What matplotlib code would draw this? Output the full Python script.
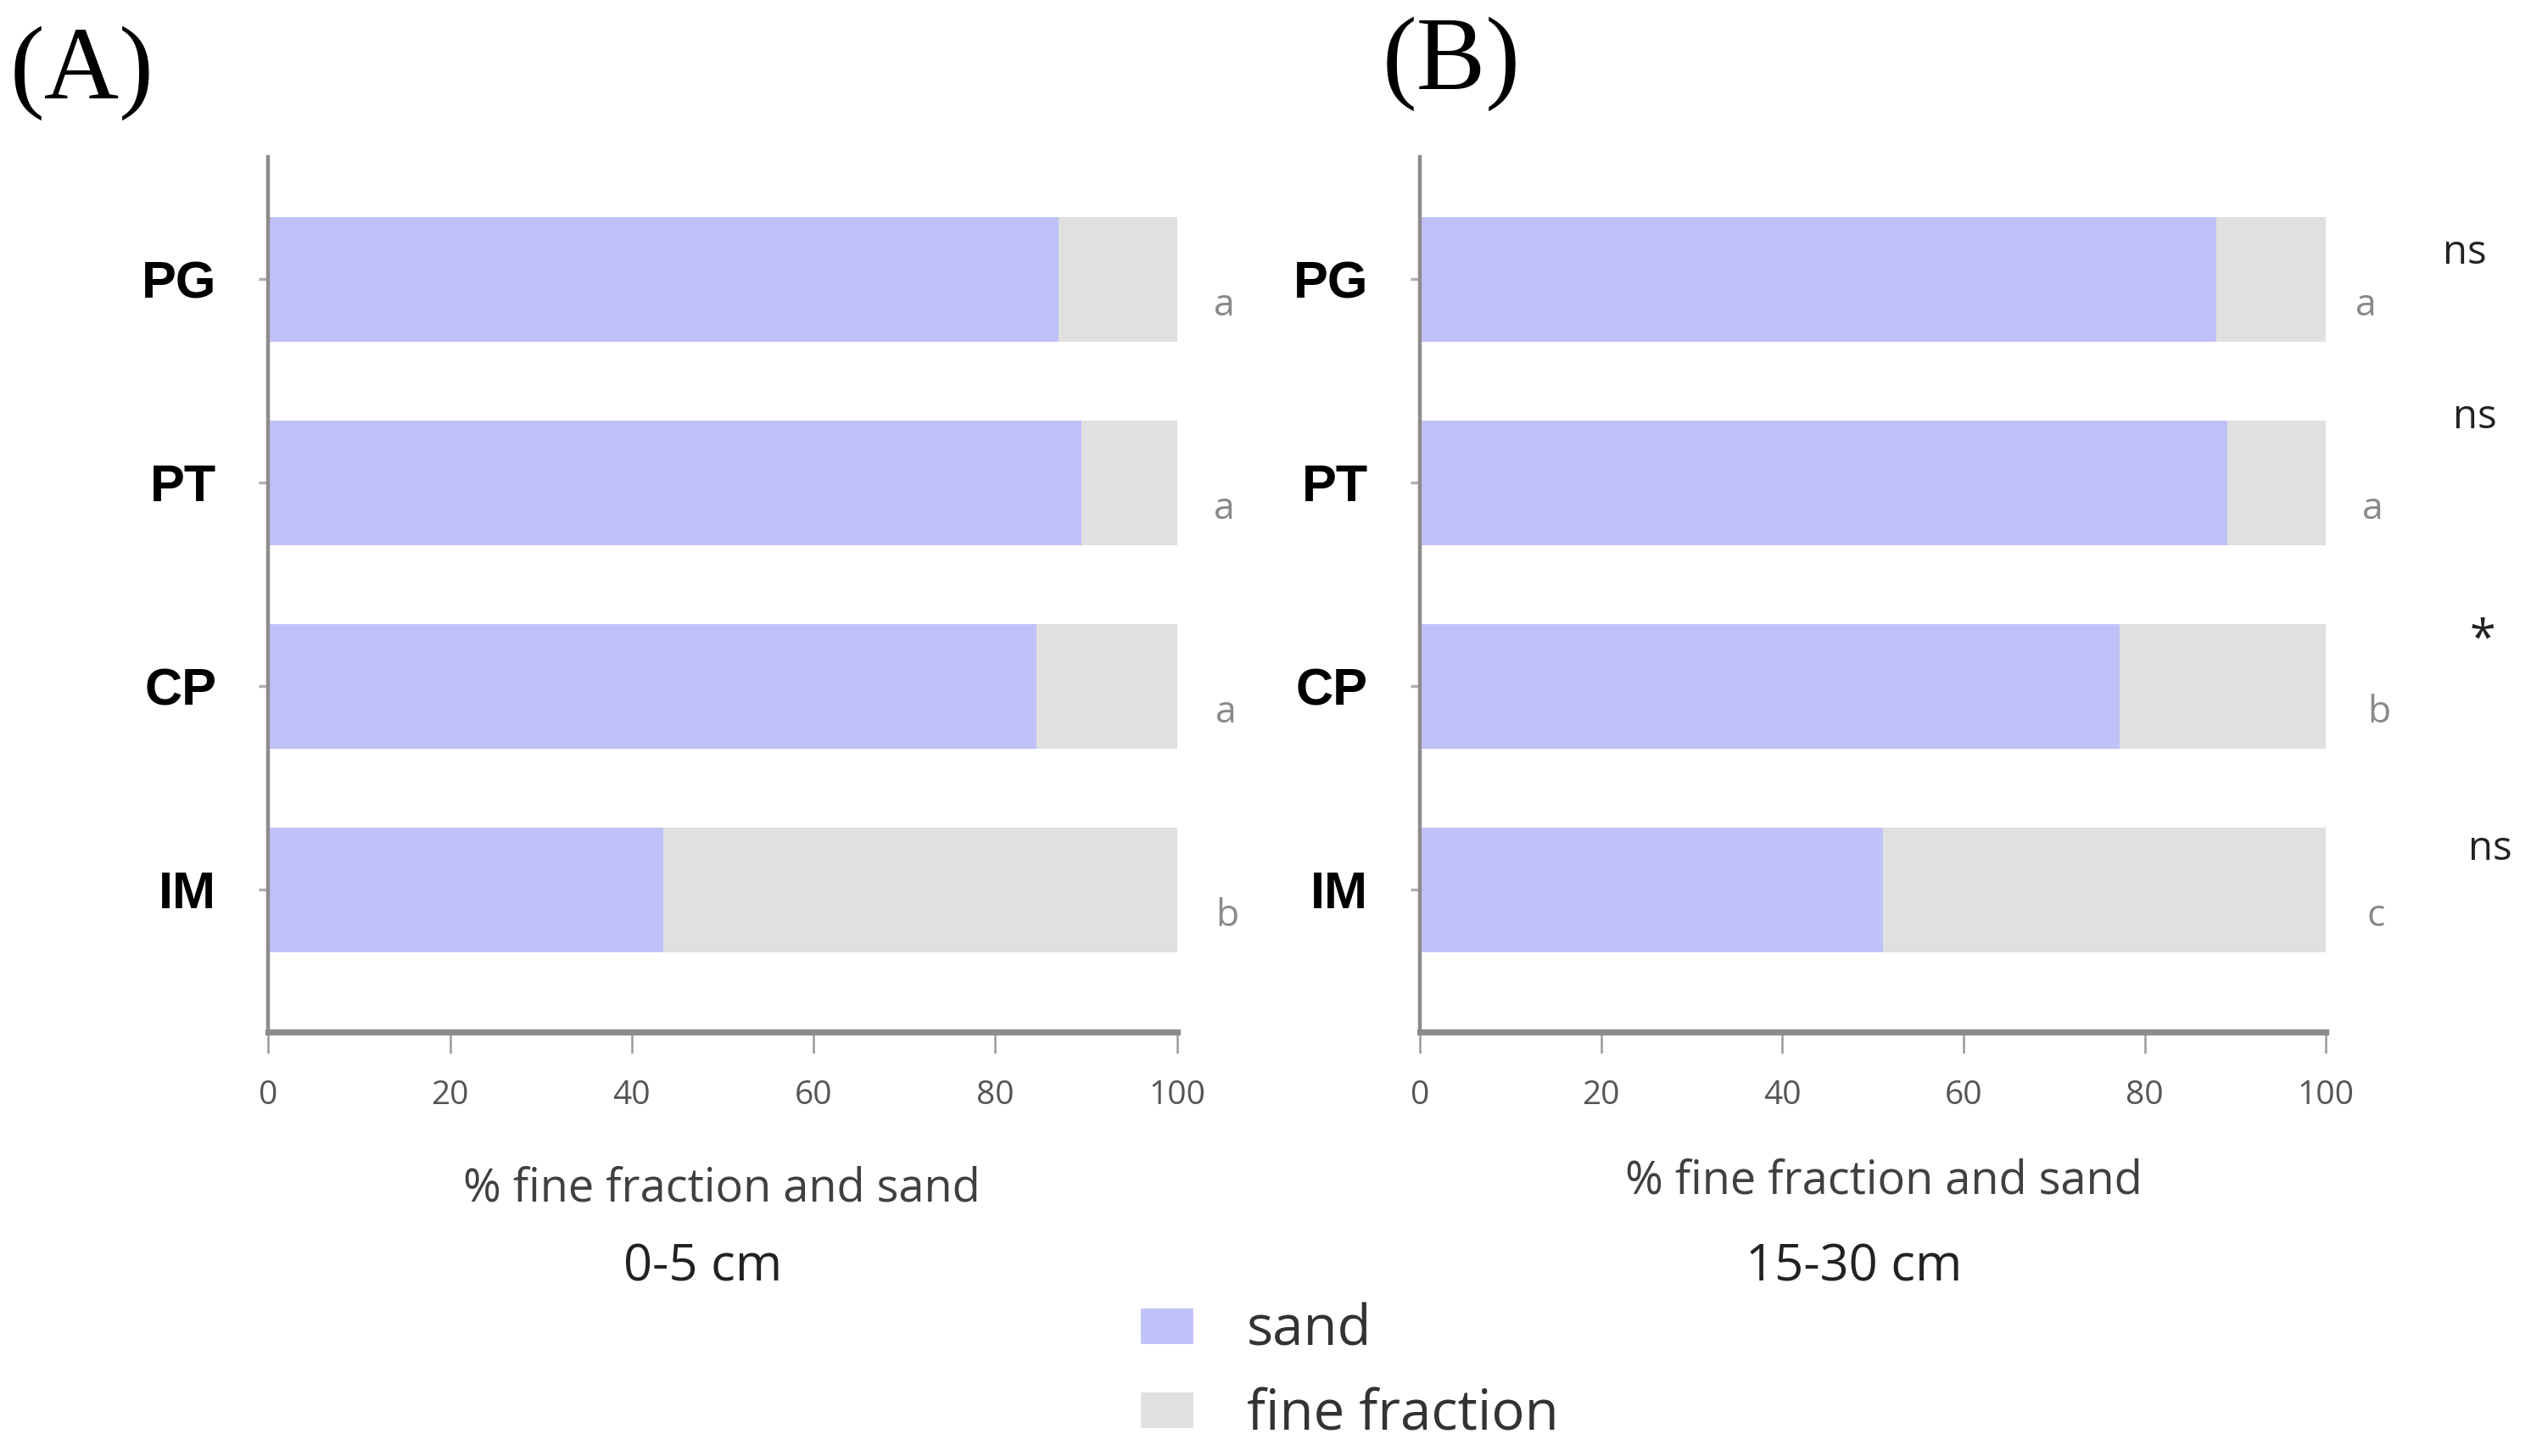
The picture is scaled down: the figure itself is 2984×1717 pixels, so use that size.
import matplotlib.pyplot as plt
from matplotlib.patches import Patch

# Data (sand %, fine fraction = 100 - sand)
sites = ["PG", "PT", "CP", "IM"]
sand_0_5 = [87.0, 89.5, 84.5, 43.5]
sand_15_30 = [87.9, 89.1, 77.2, 51.1]
letters_0_5 = ["a", "a", "a", "b"]
letters_15_30 = ["a", "a", "b", "c"]
signif = ["ns", "ns", "*", "ns"]
xticks = [0, 20, 40, 60, 80, 100]

SAND = "#c1c1fa"
FINE = "#e0e0e0"
SPINE = "#8c8c8c"

plt.rcParams['font.family'] = ['Open Sans', 'DejaVu Sans']

fig = plt.figure(figsize=(14.92, 8.585), dpi=200)
axA = fig.add_axes([0.106, 0.291, 0.359, 0.601])
axB = fig.add_axes([0.561, 0.291, 0.358, 0.601])

ypos = [3, 2, 1, 0]


def draw_panel(ax, sand, letters, label_x, xlab_pos, xlab_y, sub_pos, depth):
    fine = [100 - s for s in sand]
    ax.barh(ypos, sand, height=0.61, color=SAND, linewidth=0)
    ax.barh(ypos, fine, left=sand, height=0.61, color=FINE, linewidth=0)
    ax.set_xlim(0, 100)
    ax.set_ylim(-0.7, 3.6)
    ax.set_yticks(ypos)
    ax.set_yticklabels(sites, fontsize=22, fontweight='bold',
                       family=['Liberation Sans', 'DejaVu Sans'])
    ax.set_xticks(xticks)
    ax.set_xticklabels([str(t) for t in xticks], fontsize=14, color="#555555")
    for s in ["top", "right"]:
        ax.spines[s].set_visible(False)
    ax.spines["left"].set_color(SPINE)
    ax.spines["left"].set_linewidth(1.6)
    ax.spines["bottom"].set_color(SPINE)
    ax.spines["bottom"].set_linewidth(2.6)
    ax.tick_params(axis='x', length=9, width=0.9, color="#9a9a9a", pad=11)
    ax.tick_params(axis='y', length=4, width=1.2, color="#b0b0b0", pad=18)
    for y, lt, lx in zip(ypos, letters, label_x):
        ax.text(lx, y - 0.13, lt, fontsize=16, color="#8a8a8a",
                ha='center', va='center')
    ax.text(xlab_pos, xlab_y, "% fine fraction and sand", transform=ax.transAxes,
            fontsize=19.5, color="#404040", ha='center', va='center')
    ax.text(sub_pos, -0.269, depth, transform=ax.transAxes,
            fontsize=21.5, color="#222222", ha='center', va='center')


draw_panel(axA, sand_0_5, letters_0_5, [105.2, 105.2, 105.4, 105.5],
           0.499, -0.179, 0.478, "0-5 cm")
draw_panel(axB, sand_15_30, letters_15_30, [104.4, 105.2, 105.9, 105.5],
           0.512, -0.170, 0.479, "15-30 cm")

# significance marks between depths
sig_x = [115.3, 116.4, 117.3, 118.1]
sig_dy = [0.13, 0.32, 0.22, 0.20]
for y, s, sx, dy in zip(ypos, signif, sig_x, sig_dy):
    axB.text(sx, y + dy, s, fontsize=17 if s != "*" else 20, color="#222222",
             ha='center', va='center', clip_on=False)

fig.text(0.004, 0.950, "(A)", fontsize=44, va='center', ha='left',
         family=['Liberation Serif', 'DejaVu Serif'])
fig.text(0.546, 0.956, "(B)", fontsize=44, va='center', ha='left',
         family=['Liberation Serif', 'DejaVu Serif'])

handles = [Patch(color=SAND, label="sand"), Patch(color=FINE, label="fine fraction")]
fig.legend(handles=handles, loc='upper left', bbox_to_anchor=(0.451, 0.105),
           frameon=False, fontsize=23.5, handlelength=0.9, handleheight=0.55,
           handletextpad=1.0, labelspacing=0.5, borderpad=0, borderaxespad=0,
           labelcolor="#333333")

fig.savefig("out.png", dpi=200, facecolor="white")
